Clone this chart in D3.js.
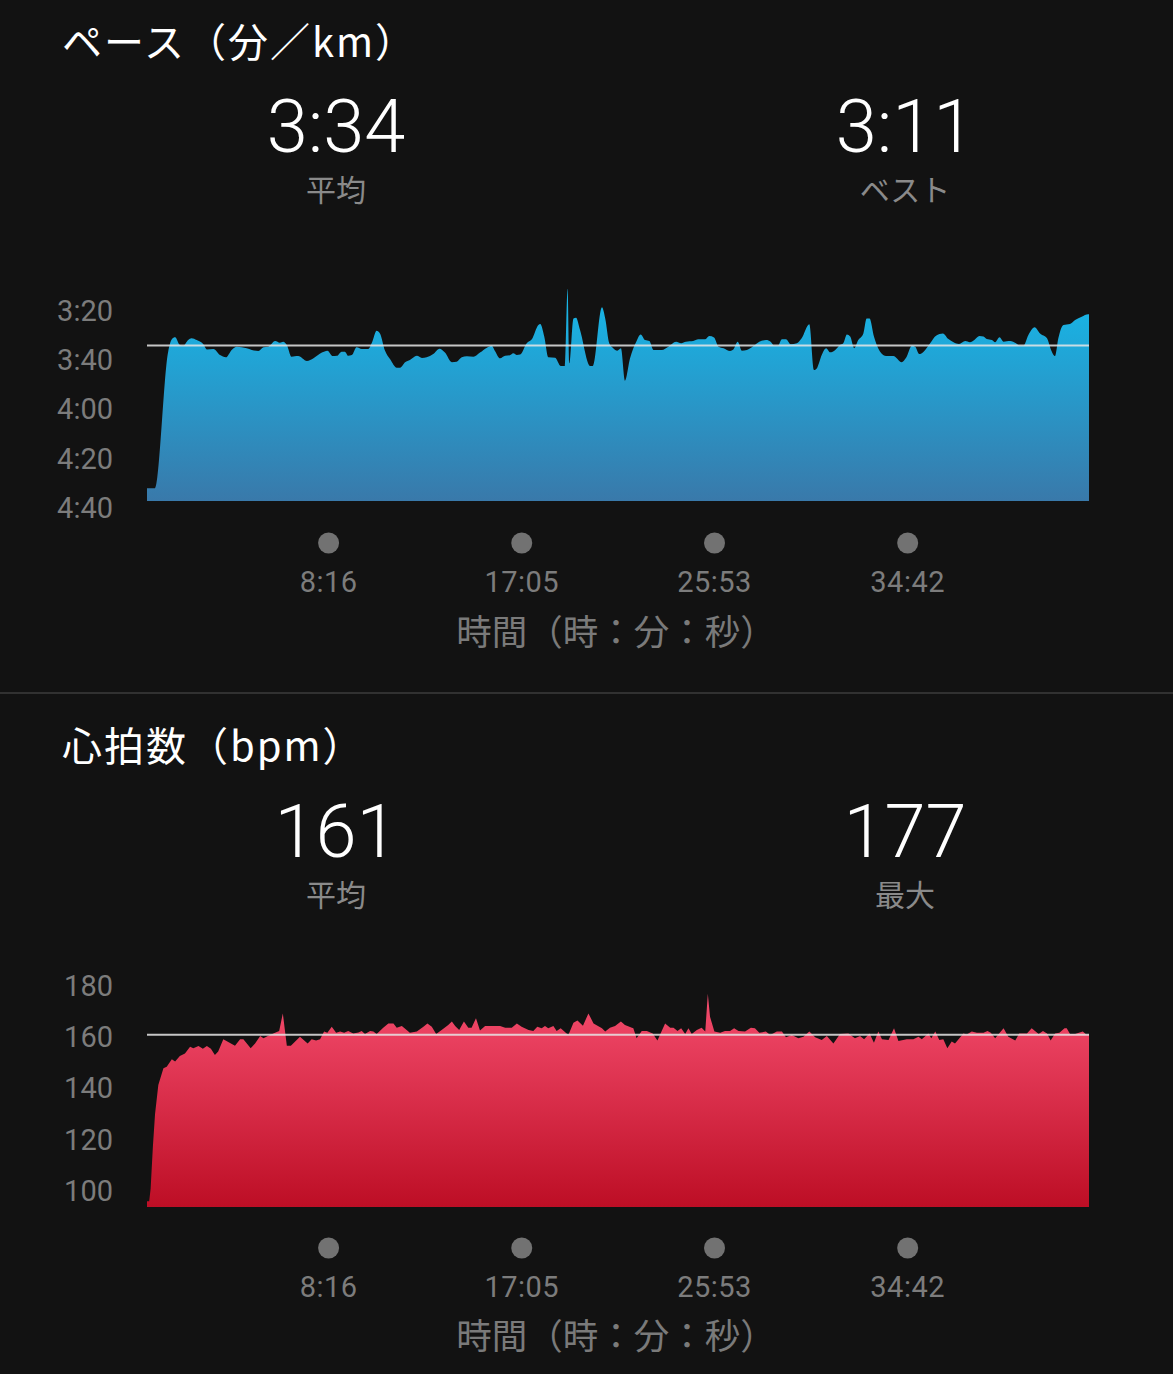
<!DOCTYPE html>
<html><head><meta charset="utf-8">
<script src="https://cdn.jsdelivr.net/npm/d3@7/dist/d3.min.js"></script>
<style>
html,body{margin:0;padding:0;background:#121212;}
svg{display:block;}
</style></head><body>
<svg id="chart" width="1173" height="1374"></svg>
<script>
// ---------- DATA ----------
const totalDuration = 2580; // seconds
const timeTickValues = [496, 1025, 1553, 2082];
const timeTickLabels = ["8:16", "17:05", "25:53", "34:42"];

const paceTitle = "ペース（分／km）";
const paceAvg = 214;   // 3:34
const paceBest = 191;  // 3:11
const paceStatLabels = ["平均", "ベスト"];
const paceTickValues = [200, 220, 240, 260, 280];
const paceTickLabels = ["3:20", "3:40", "4:00", "4:20", "4:40"];
const paceTime = [0,22,58,68,77,90,99,113,122,136,
154,164,182,200,216,232,246,273,287,305,
319,332,351,364,373,383,396,414,438,456,
479,494,509,520,533,542,551,561,574,588,
606,617,629,638,652,666,684,693,707,720,
739,753,766,784,801,816,835,848,862,876,
894,912,931,944,953,967,981,994,1003,1013,
1022,1040,1054,1072,1077,1088,1099,1118,1133,1145,
1152,1157,1168,1175,1186,1214,1221,1246,1255,1266,
1277,1288,1298,1309,1323,1340,1352,1364,1376,1387,
1410,1428,1449,1463,1476,1496,1510,1529,1540,1553,
1565,1579,1597,1606,1618,1629,1643,1661,1677,1696,
1708,1718,1728,1739,1750,1763,1780,1793,1814,1827,
1836,1848,1860,1871,1885,1898,1907,1917,1926,1937,
1948,1962,1971,1979,1991,2013,2024,2044,2067,2079,
2095,2104,2115,2127,2145,2161,2180,2195,2209,2224,
2241,2254,2266,2280,2291,2300,2314,2323,2335,2346,
2364,2380,2391,2400,2414,2431,2446,2465,2476,2487,
2496,2510,2528,2542,2560,2578,2580];
const paceSec = [272,272,216.5,211.5,210.7,213.8,214.1,211.8,211.1,211.8,
213.4,215.6,215.4,217.9,218.8,215.8,214.5,215.1,215.8,216.2,
214.7,214.5,212.2,212.9,212.5,213.8,218.6,218.3,220.3,219.2,
216.9,216.1,218.3,218.2,216.5,216.5,218.2,217.9,214.7,215.4,
215.4,212.5,208.0,209.1,216.1,219.6,223.0,223.0,220.8,219.9,
218.2,219.1,218.8,217.5,215.3,216.9,220.8,220.6,218.8,218.4,
218.6,216.9,214.9,214.1,216.2,219.2,218.2,218.0,217.2,217.9,
217.7,213.1,211.5,205.7,205.3,210.4,218.8,219.0,222.3,222.3,
191,221.2,203.0,202.7,207.7,222.3,222.3,198.5,203.0,213.1,
215.1,216.1,215.1,228.3,219.2,212.5,209.5,211.8,212.2,215.8,
215.8,214.5,212.5,213.1,212.5,212.2,211.5,211.5,210.2,210.8,
214.5,215.1,216.2,215.6,212.5,216.1,215.8,214.2,212.5,211.8,
212.5,214.1,214.1,211.5,211.5,213.5,213.1,211.1,205.4,224.0,
222.9,217.9,215.1,216.8,215.8,213.8,213.1,209.5,210.4,215.1,
211.8,209.1,203.0,203.0,210.4,217.5,218.3,218.3,220.8,219.0,
214.1,214.5,217.5,216.5,213.1,210.0,209.1,211.4,212.7,213.4,
212.2,212.7,211.8,210.2,210.4,211.4,211.8,212.7,210.7,212.5,
212.2,213.1,214.1,214.1,209.7,206.6,209.1,211.1,215.8,218.3,
211.1,205.7,205.3,203.7,202.3,201.3,201.3];

const hrTitle = "心拍数（bpm）";
const hrAvg = 161;
const hrMax = 177;
const hrStatLabels = ["平均", "最大"];
const hrTickValues = [100, 120, 140, 160, 180];
const hrTickLabels = ["100", "120", "140", "160", "180"];
const hrTime = [0,6,10,16,22,31,45,54,68,77,
90,104,118,127,141,153,164,175,186,195,
209,241,255,264,284,296,310,319,331,346,
362,372,383,394,419,440,451,463,474,485,
494,506,518,529,540,551,565,579,588,597,
611,620,629,647,661,675,684,698,711,720,
739,757,768,780,792,807,825,835,844,855,
868,880,889,901,912,926,967,981,999,1013,
1026,1045,1058,1069,1081,1090,1099,1113,1122,1133,
1154,1168,1179,1194,1209,1223,1246,1255,1268,1282,
1298,1309,1328,1332,1341,1355,1369,1385,1398,1419,
1433,1442,1453,1463,1474,1483,1492,1506,1519,1529,
1536,1542,1554,1570,1583,1597,1608,1620,1638,1654,
1665,1677,1695,1707,1725,1739,1750,1766,1784,1798,
1814,1830,1848,1862,1880,1898,1921,1939,1953,1964,
1979,1991,2003,2013,2031,2046,2058,2081,2099,2113,
2122,2140,2148,2159,2170,2181,2192,2204,2213,2236,
2245,2259,2273,2291,2302,2311,2323,2346,2359,2378,
2389,2410,2423,2442,2454,2465,2475,2487,2499,2513,
2519,2528,2542,2563,2574,2578,2580];
const hrBpm = [96,96,101,117,130,141.4,147.9,148.5,151.4,150.5,
152.7,153.7,156.3,155.7,156.6,155.5,156.6,155.5,153.1,154.4,
159.2,156.7,159.2,159.2,155.7,157.6,160.5,159.6,160.5,161.5,
162.4,169.3,156.7,156.7,160.2,157.6,159.2,158.7,159.2,162.2,
161.8,164.1,161.8,162.2,161.8,162.4,161.5,161.9,162.4,161.3,
162.4,162.2,161.3,163.7,165.4,165.4,163.7,164.4,162.8,161.8,
162.2,164.1,165.4,164.1,161.3,162.8,164.8,166.1,164.4,162.8,
166.1,163.7,163.7,167.4,162.6,164.4,164.4,163.7,163.7,165.4,
164.1,162.8,162.4,164.1,163.5,164.4,163.5,164.4,162.4,163.5,
160.9,165.7,166.5,164.5,169.3,165.4,163.5,162.2,163.7,164.4,
166.1,164.8,163.7,163.5,159.6,162.4,162.4,161.5,158.7,165.4,
163.7,163.7,162.4,163.5,161.3,163.5,161.3,162.8,163.7,162.2,
177,168,162.2,161.8,162.4,162.4,163.5,162.4,162.2,163.7,
163.5,161.8,162.2,160.9,162.2,162.2,160,160.9,159.6,160.2,
162.2,160,158.9,160.5,157.6,161.3,161.5,159.6,160.5,159.2,
161.5,157.9,162.2,159.2,158.9,163.5,158.5,159.2,159.2,160.2,
159.2,161.5,159.6,162.2,158.9,159.2,155.7,158.3,157.6,161.5,
161.1,162.2,161.8,161.8,162.4,161.8,159.6,163.5,160.2,158.7,
161.5,161.5,163.5,161.3,162.4,161.5,158.7,161.5,161.8,163.5,
163.5,161.3,161.3,162.2,160.9,161.1,161];

const axisTitle = "時間（時：分：秒）";

// ---------- DRAW ----------
const W = 1173, H = 1374;
const CJK = "'Noto Sans CJK JP','Noto Sans',sans-serif";
const NUM = "Roboto,'Liberation Sans',sans-serif";
const svg = d3.select('#chart');
svg.append('rect').attr('width', W).attr('height', H).attr('fill', '#121212');
const defs = svg.append('defs');

const x = d3.scaleLinear().domain([0, totalDuration]).range([147, 1089]);

function fmtPace(s) {
  const m = Math.floor(s / 60), r = Math.round(s % 60);
  return m + ":" + String(r).padStart(2, "0");
}

function panel(o) {
  // title
  svg.append('text').attr('x', 62).attr('y', o.titleY)
    .attr('dominant-baseline', 'central')
    .attr('font-family', CJK).attr('font-size', 40).attr('letter-spacing', 2)
    .attr('fill', '#ffffff')
    .text(o.title);

  // stats
  o.stats.forEach((s, i) => {
    const cx = [336, 905][i];
    svg.append('text').attr('x', cx).attr('y', o.statY)
      .attr('text-anchor', 'middle').attr('dominant-baseline', 'central')
      .attr('font-family', NUM).attr('font-weight', 300).attr('font-size', 74)
      .attr('fill', '#ffffff').text(s.value);
    svg.append('text').attr('x', cx).attr('y', o.labelY)
      .attr('text-anchor', 'middle').attr('dominant-baseline', 'central')
      .attr('font-family', CJK).attr('font-size', 30)
      .attr('fill', '#8a8a8a').text(s.label);
  });

  // gradient
  const gid = o.id + 'grad';
  const g = defs.append('linearGradient').attr('id', gid)
    .attr('gradientUnits', 'userSpaceOnUse')
    .attr('x1', 0).attr('x2', 0).attr('y1', o.gradTop).attr('y2', o.plotBottom);
  g.append('stop').attr('offset', '0%').attr('stop-color', o.colors[0]);
  g.append('stop').attr('offset', '100%').attr('stop-color', o.colors[1]);

  // area
  const data = o.times.map((t, i) => ({ t, v: o.vals[i] }));
  const area = d3.area()
    .x(d => x(d.t)).y0(o.plotBottom).y1(d => o.y(d.v))
    .curve(o.curve);
  svg.append('path').datum(data).attr('d', area).attr('fill', `url(#${gid})`);

  // average line
  svg.append('line')
    .attr('x1', x(0)).attr('x2', x(totalDuration))
    .attr('y1', o.y(o.avg)).attr('y2', o.y(o.avg))
    .attr('stroke', '#e6e6e6').attr('stroke-opacity', 0.85).attr('stroke-width', 2);

  // y axis
  const ya = svg.append('g').attr('transform', 'translate(113,0)')
    .call(d3.axisLeft(o.y).tickValues(o.tickValues)
      .tickFormat((d, i) => o.tickLabels[i]).tickSize(0).tickPadding(0));
  ya.select('.domain').remove();
  ya.selectAll('text').attr('font-family', NUM).attr('font-size', 29)
    .attr('fill', '#7c7c7c');

  // x axis (dots + labels)
  const xa = svg.append('g').attr('transform', `translate(0,${o.dotY})`)
    .call(d3.axisBottom(x).tickValues(timeTickValues)
      .tickFormat((d, i) => timeTickLabels[i]).tickSize(0));
  xa.select('.domain').remove();
  xa.selectAll('.tick').append('circle').attr('r', 10.5).attr('fill', '#727272');
  xa.selectAll('text').attr('y', 39).attr('dy', '0.36em')
    .attr('font-family', NUM).attr('font-size', 29).attr('letter-spacing', 0.5)
    .attr('fill', '#7c7c7c');

  svg.append('text').attr('x', 616).attr('y', o.axisTitleY)
    .attr('text-anchor', 'middle').attr('dominant-baseline', 'central')
    .attr('font-family', CJK).attr('font-size', 35.5).attr('fill', '#7a7a7a')
    .text(axisTitle);
}

// pace panel
panel({
  id: 'pace', title: paceTitle, titleY: 40,
  stats: [{ value: fmtPace(paceAvg), label: paceStatLabels[0] },
          { value: fmtPace(paceBest), label: paceStatLabels[1] }],
  statY: 126, labelY: 188,
  y: d3.scaleLinear().domain([200, 280]).range([311, 508]),
  tickValues: paceTickValues, tickLabels: paceTickLabels,
  avg: paceAvg, times: paceTime, vals: paceSec,
  plotBottom: 501, gradTop: 300, colors: ['#17b6e7', '#3979aa'],
  curve: d3.curveMonotoneX,
  dotY: 543, axisTitleY: 629
});

// separator
svg.append('line').attr('x1', 0).attr('x2', W).attr('y1', 693).attr('y2', 693)
  .attr('stroke', '#3c3c3c').attr('stroke-width', 1.5);

// heart-rate panel
panel({
  id: 'hr', title: hrTitle, titleY: 744,
  stats: [{ value: String(hrAvg), label: hrStatLabels[0] },
          { value: String(hrMax), label: hrStatLabels[1] }],
  statY: 831, labelY: 893,
  y: d3.scaleLinear().domain([100, 180]).range([1191, 986]),
  tickValues: hrTickValues, tickLabels: hrTickLabels,
  avg: hrAvg, times: hrTime, vals: hrBpm,
  plotBottom: 1207, gradTop: 1000, colors: ['#f34b6c', '#bd0e25'],
  curve: d3.curveLinear,
  dotY: 1248, axisTitleY: 1333
});
</script>
</body></html>
